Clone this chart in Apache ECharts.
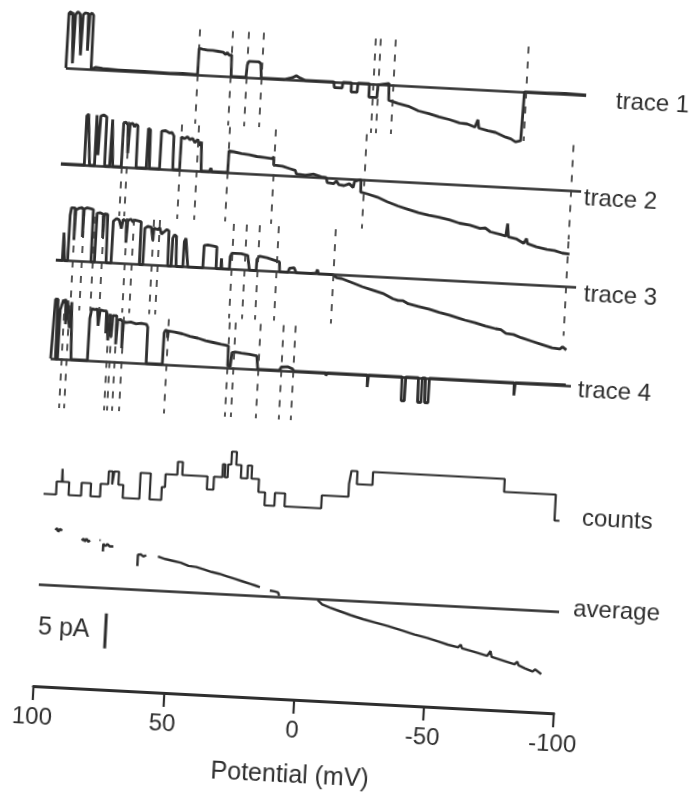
<!DOCTYPE html>
<html>
<head>
<meta charset="utf-8">
<title>Single channel ramps</title>
<script src="https://cdn.jsdelivr.net/npm/echarts/dist/echarts.min.js"></script>
<style>
html, body {
    margin: 0;
    padding: 0;
    width: 692px;
    height: 796px;
    overflow: hidden;
    background: #fff;
}

/* the scanned figure sits a little crooked on the page */
#chart {
    width: 692px;
    height: 796px;
    transform: rotate(3deg);
}
</style>
</head>
<body>
<div id="chart"></div>
<script>
// potential (mV) vs current (pA), one row per ramp
const trace1 = [
    [100, 0], [99.9, 0], [99.9, 7.8], [99.2, 8.1], [98.8, 7.6], [98.4, 8.0], [97.8, 7.9], [97.6, 0.7], [97.3, 7.7],
    [96.5, 8.1], [95.6, 7.8], [94.9, 8.0], [94.7, 1.9], [94.4, 7.7], [93.6, 8.0], [92.4, 7.9], [92.1, 2.6], [91.8, 7.8],
    [91.0, 8.0], [90.4, 7.7], [90.3, 0], [88.5, 0.3], [86, 0.2], [80, 0.1], [70, 0.1], [60, 0], [55, 0.1], [49.4, 0],
    [49.3, 3.8], [48, 3.7], [46, 3.6], [44, 3.6], [42, 3.5], [40, 3.4], [39, 3.1], [38.5, 3.4], [37.5, 3.0], [36.7, 3.1], [36.5, 0],
    [30.8, 0], [30.5, 1.8], [30, 2.3], [26, 2.3], [25.3, 2.0], [24.9, 0],
    [16, 0], [13, 0.3], [11.5, 0.6], [10, 0.3], [8, 0], [-3, 0], [-3.3, -0.8], [-6.3, -0.8], [-6.5, 0],
    [-9.8, 0], [-9.8, -1.3], [-12.1, -1.3], [-12.3, 0], [-16.7, 0], [-16.7, -1.9], [-19.8, -1.9], [-20, -0.1], [-24.2, 0.2], [-24.4, 0],
    [-24.4, -2.2], [-28, -2.6], [-32, -2.9], [-36, -3.5], [-40, -3.8], [-44, -4.2], [-48, -4.5], [-52, -4.9], [-55, -5.0],
    [-58, -5.4], [-59, -4.3], [-59.5, -5.5], [-63, -5.8], [-66, -6.0], [-70, -6.6], [-72, -6.8], [-73.8, -7.2], [-75.8, -7.0],
    [-76.3, 0], [-85, 0], [-92, 0.1], [-100, 0]
];
const trace2 = [
    [100, 0], [91.0, 0], [91.0, 7.0], [90.3, 7.3], [89.6, 7.1], [89.0, 0], [87.1, 0], [87.1, 7.2], [86.4, 7.3], [86.0, 1.5],
    [85.6, 7.1], [84.5, 7.3], [83.3, 7.0], [83.2, 0], [81.3, 0], [81.0, 6.7], [80.4, 6.6], [80.1, 0],
    [76.8, 0], [76.7, 6.3], [75.8, 6.4], [75.0, 6.0], [74.6, 2.0], [74.2, 6.2], [73.2, 6.3], [72.5, 5.8], [72.0, 6.2], [71.2, 6.0], [71.1, 0],
    [67.2, 0], [67.1, 5.7], [66.3, 5.5], [66.0, 0],
    [62.1, 0], [62.0, 5.4], [60.5, 5.5], [59.0, 5.2], [58.0, 5.3], [57.2, 4.8], [57.0, 0],
    [54.4, 0], [54.3, 4.7], [53, 4.5], [52, 4.8], [51, 4.4], [50, 4.6], [49, 4.0], [48, 4.5], [47, 3.6], [46.5, 4.2], [46.1, 0],
    [43, 0], [42.4, 0.5], [42, 0], [35.9, 0], [35.8, 3.1], [34, 3.0], [31, 2.8], [28, 2.7], [25, 2.5], [22, 2.4], [19, 2.3],
    [18.5, 2.6], [18.4, 1.4], [15, 1.3], [12, 1.0], [10, 0.8], [9.5, 0.3], [6, 0.2], [3, 0.4], [0, 0.1],
    [-2, 0], [-2.5, -0.7], [-5, -0.8], [-6, -0.4], [-7, -0.9], [-9, -1.0], [-11, -0.7], [-12.5, -1.2], [-13, -0.3], [-15.4, 0],
    [-15.5, -1.8], [-18, -2.0], [-22, -2.4], [-26, -3.0], [-30, -3.5], [-34, -3.9], [-38, -4.3], [-42, -4.6], [-46, -4.8],
    [-50, -5.1], [-54, -5.5], [-58, -5.7], [-62, -6.1], [-64, -6.0], [-66, -6.5], [-70, -6.8], [-72, -7.0], [-72.5, -5.2],
    [-73, -7.1], [-76, -7.3], [-79, -7.9], [-80, -7.2], [-80.5, -7.9], [-84, -8.3], [-88, -8.6], [-91, -8.7], [-94, -9.0], [-96.8, -9.1]
];
const trace3 = [
    [100, 0], [97.5, 0], [97.4, 4.0], [96.8, 4.0], [96.7, 0], [95.5, 0], [95.4, 6.5], [95.0, 7.6], [94.3, 7.4], [93.6, 7.6],
    [93.5, 3.0], [93.3, 7.3], [92, 7.6], [91, 7.7], [90.4, 7.4], [90.3, 3.5], [90.1, 7.5], [89, 7.7], [87.5, 7.6], [86.6, 7.5], [86.5, 0],
    [85.2, 0], [85.1, 7.0], [84, 7.1], [82.7, 6.9], [82.5, 3.5], [82.2, 7.0], [81, 6.9], [80.7, 0],
    [78.8, 0], [78.7, 6.0], [77.5, 6.4], [76.5, 6.2], [75.5, 5.0], [75, 6.3], [73.7, 6.1], [73.5, 3.0], [73.2, 6.2], [72, 6.4],
    [71.1, 6.0], [70.5, 6.3], [69, 6.2], [68, 6.1], [67.9, 0],
    [66.6, 0], [66.5, 5.2], [65.5, 5.5], [64, 5.4], [63.4, 5.3], [63.2, 3.5], [63, 5.3], [61.5, 5.1], [60.8, 5.4], [60, 4.5],
    [58, 5.2], [57.2, 5.0], [57.0, 0],
    [55.7, 0], [55.6, 4.0], [55.0, 4.5], [54.2, 4.3], [53.8, 0],
    [51.2, 0], [51.1, 3.6], [50.5, 4.1], [49.8, 3.9], [49.3, 0],
    [43.5, 0], [43.4, 3.2], [42, 3.3], [40, 3.2], [38.5, 3.1], [38.4, 0], [36.6, 0], [36.5, 1.5], [36.2, 0],
    [33.3, 0], [33.2, 1.8], [32.6, 2.3], [29, 2.3], [26.5, 2.1], [25.6, 0],
    [23.0, 0], [22.9, 1.6], [22, 2.1], [19, 1.9], [16, 1.6], [14.2, 1.4], [14.0, 0],
    [10.8, 0], [10.2, 0.6], [8.5, 0.7], [7.6, 0], [2, 0], [0, 0.1], [-0.5, 0.6], [-1, 0], [-6.5, 0],
    [-8, -0.4], [-10, -0.5], [-14, -1.0], [-18, -1.5], [-22, -1.9], [-26, -2.3], [-30, -3.0], [-32, -3.2], [-34, -3.2],
    [-36, -3.6], [-40, -3.9], [-44, -4.2], [-48, -4.6], [-52, -4.9], [-56, -5.3], [-58, -5.5], [-62, -5.8], [-66, -6.2],
    [-70, -6.5], [-72, -6.6], [-74, -7.1], [-77, -7.2], [-80, -7.6], [-84, -8.0], [-88, -8.4], [-92, -8.8], [-95, -8.9],
    [-96, -8.6], [-97.5, -9.0]
];
const trace4 = [
    [100, 0], [99.4, 0], [99.3, 8.5], [98.3, 8.5], [98.2, 0], [97.4, 0], [97.3, 7.0], [96.2, 8.5], [95.8, 8.0], [95.4, 8.6],
    [95.0, 5.0], [94.6, 8.4], [94.1, 8.5], [93.5, 4.5], [93.0, 8.2], [92.3, 8.4], [92.2, 0],
    [85.9, 0], [85.8, 6.0], [85.2, 7.4], [84, 7.3], [83, 7.4], [82.5, 5.0], [82.0, 7.3], [80.5, 7.2], [79.5, 7.2], [79.4, 4.0],
    [79.2, 6.9], [78.7, 6.8], [78.5, 3.0], [78, 6.8], [77.5, 6.7], [77.3, 3.5], [77, 6.6], [75.5, 6.6], [75.4, 2.5], [75.0, 6.0],
    [74, 6.1], [73.2, 5.8], [73.0, 2.0], [72.8, 5.8], [71.7, 5.7], [70, 5.8], [68, 5.6], [66, 5.7], [64, 5.6], [63.4, 5.2], [63.3, 0],
    [57.1, 0], [57.0, 4.5], [56.5, 4.9], [55.7, 4.8], [55.6, 3.8], [55.4, 4.8], [53, 4.7], [50, 4.5], [47, 4.2], [44, 4.0],
    [41, 3.7], [38, 3.5], [35, 3.3], [33, 3.2], [32.1, 3.1], [32.0, 0.3], [31, 0.2], [30.7, 0], [30.6, 2.2], [29.4, 2.3],
    [27, 2.2], [24, 2.1], [21, 1.9], [20.5, 1.8], [20.4, 0],
    [12.1, 0], [11.4, 0.5], [9, 0.6], [7, 0.3], [6.5, 0], [0, 0], [-5.8, 0], [-5.9, -0.4], [-6.2, 0],
    [-21.8, 0], [-21.9, -1.7], [-22.2, 0], [-35.1, 0], [-35.2, -3.4], [-36.4, -3.4], [-36.5, 0],
    [-41.4, 0], [-41.5, -3.5], [-42.8, -3.5], [-42.9, 0], [-44.1, 0], [-44.2, -3.5], [-45.5, -3.5], [-45.6, 0],
    [-78.2, 0], [-78.3, -1.8], [-78.6, 0], [-98, 0.1]
];

// potentials of the dashed transition markers on each ramp
const trace1Marks = [49.3, 36.6, 30.7, 25.0, -18.0, -19.9, -25.7, -77.0];
const trace2Marks = [76.8, 74.9, 54.4, 48.0, 35.8, 18.5, -16.7, -96.2];
const trace3Marks = [93.5, 90.3, 85.8, 82.6, 73.7, 71.1, 63.4, 60.8, 32.6, 27.5, 22.4, 15.3, -6.5, -96.2];
const trace4Marks = [96.0, 94.1, 78.7, 77.5, 75.5, 73.0, 55.7, 32.0, 30.0, 20.4, 11.4, 7.0];

// number of open channels, as [potential where the level starts, level]
const counts = [
    [100, 0], [95.2, 1], [93.2, 2], [92.9, 1], [90.4, 0], [85.6, 1], [82.0, 0], [78.3, 1], [75.4, 2], [73.9, 1],
    [73.3, 2], [71.5, 1], [69.6, 0], [63.2, 2], [59.3, 0], [54.8, 1], [53.6, 2], [49.1, 3], [47.2, 2], [37.5, 1],
    [35.0, 2], [31.8, 3], [30.9, 2], [29.8, 3], [28.6, 4], [26.7, 3], [24.7, 2], [22.2, 3], [20.6, 2], [17.7, 1],
    [15.1, 0], [11.3, 1], [7.4, 0], [-6.7, 1], [-16.9, 2], [-17.6, 3], [-19.9, 2], [-25.9, 3], [-76.5, 2],
    [-96.4, 0], [-98.3, 0]
];

// averaged open channel current, '-' where the average is not drawn
const average = [
    [94.7, 7.9], [94.2, 8.2], [93.6, 7.7], [93.0, 8.1], [92.1, 7.9], [88, '-'],
    [84.4, 6.6], [83.8, 6.9], [83.2, 6.5], [82.6, 6.9], [81.9, 6.5], [81.2, 6.7], [79, '-'],
    [77.6, 6.8], [77.2, 6.8], [76.6, '-'],
    [76.1, 5.2], [76.1, 6.3], [75.3, 6.0], [74.5, 6.3], [73.6, 6.0], [72.9, 6.2], [72.2, 6.0], [68, '-'],
    [62.6, 3.4], [62.6, 5.0], [61.6, 5.1], [60.5, 4.8], [59.4, 5.0], [57, '-'],
    [54.9, 4.9], [52, 4.6], [49, 4.4], [46, 4.2], [43, 3.8], [40, 3.7], [37, 3.4], [34, 3.1], [31, 2.9], [28, 2.6],
    [25, 2.3], [22, 2.0], [19, 1.7], [17, 1.5], [15.2, 1.3], [13, '-'],
    [11.3, 0.9], [9.5, 0.8], [8.2, 0.7], [7.6, 0.2], [0, '-'],
    [-7.2, -0.1], [-9, -0.7], [-12, -1.1], [-15.6, -1.5], [-20, -2.0], [-25, -2.5], [-30, -2.9], [-34.8, -3.3],
    [-40, -3.8], [-45, -4.3], [-50, -4.7], [-54, -5.1], [-58, -5.5], [-62, -5.8], [-63, -5.4], [-63.5, -5.9],
    [-68, -6.3], [-73.3, -6.8], [-74.5, -6.1], [-75, -6.9], [-80, -7.4], [-84, -7.8], [-85, -7.4], [-85.5, -7.9],
    [-88, -8.3], [-91, -8.7], [-92, -8.4], [-94.4, -9.0]
];

const scaleBar = [[73.5, -3.6], [73.5, -8.6]];   // 5 pA
const potentialTicks = [100, 50, 0, -50, -100];
const rowNames = ['trace 1', 'trace 2', 'trace 3', 'trace 4', 'counts', 'average'];

const INK = '#2e2e2e';
const FONT = '"Liberation Sans", Arial, Helvetica, sans-serif';
const PX_PER_PA = 7;
const PLOT_LEFT = 49, PLOT_RIGHT = 122;

const grids = [], xAxes = [], yAxes = [], series = [];

function addGrid(top, height, ymin, ymax) {
    grids.push({ left: PLOT_LEFT, right: PLOT_RIGHT, top: top, height: height });
    const idx = grids.length - 1;
    xAxes.push({ gridIndex: idx, type: 'value', min: -100, max: 100, inverse: true, show: false });
    yAxes.push({ gridIndex: idx, type: 'value', min: ymin, max: ymax, show: false });
    return idx;
}

const traces = [trace1, trace2, trace3, trace4];
const traceMarks = [trace1Marks, trace2Marks, trace3Marks, trace4Marks];
const traceBase = [83, 179, 275.5, 374];

traces.forEach((tr, i) => {
    const g = addGrid(traceBase[i] - 10 * PX_PER_PA, 20 * PX_PER_PA, -10, 10);
    const dashes = traceMarks[i].map(v => [
        { coord: [v, 6.5], lineStyle: { type: [7, 8], width: 1.7, color: '#3a3a3a' } },
        { coord: [v, -7] }
    ]);
    series.push({
        type: 'line',
        xAxisIndex: g,
        yAxisIndex: g,
        data: tr,
        symbol: 'none',
        clip: false,
        lineStyle: { color: INK, width: 2.8 },
        markLine: {
            silent: true,
            symbol: ['none', 'none'],
            label: { show: false },
            animation: false,
            data: [{ yAxis: 0, lineStyle: { type: 'solid', width: 2.6, color: INK } }].concat(dashes)
        }
    });
});

const gCounts = addGrid(509.5 - 5 * 13, 6 * 13, -1, 5);
series.push({
    type: 'line',
    xAxisIndex: gCounts,
    yAxisIndex: gCounts,
    data: counts,
    step: 'end',
    symbol: 'none',
    clip: false,
    lineStyle: { color: INK, width: 2.2 }
});

const gAvg = addGrid(600.5 - 10 * PX_PER_PA, 20 * PX_PER_PA, -10, 10);
series.push({
    type: 'line',
    xAxisIndex: gAvg,
    yAxisIndex: gAvg,
    data: average,
    symbol: 'none',
    clip: false,
    connectNulls: false,
    lineStyle: { color: INK, width: 2.4 },
    markLine: {
        silent: true,
        symbol: ['none', 'none'],
        label: { show: false },
        animation: false,
        data: [{ yAxis: 0, lineStyle: { type: 'solid', width: 2.6, color: INK } }]
    }
});
series.push({
    type: 'line',
    xAxisIndex: gAvg,
    yAxisIndex: gAvg,
    data: scaleBar,
    symbol: 'none',
    clip: false,
    lineStyle: { color: INK, width: 3 }
});

// the only visible axis
grids.push({ left: PLOT_LEFT, right: PLOT_RIGHT, top: 652, height: 50 });
const gAxis = grids.length - 1;
xAxes.push({
    gridIndex: gAxis,
    type: 'value',
    min: -100,
    max: 100,
    interval: 50,
    inverse: true,
    name: 'Potential (mV)',
    nameLocation: 'middle',
    nameGap: 64,
    nameTextStyle: { fontSize: 25, color: INK, fontFamily: FONT },
    axisLine: { lineStyle: { color: INK, width: 2.8 } },
    axisTick: { length: 14, lineStyle: { color: INK, width: 2.2 } },
    axisLabel: {
        fontSize: 24, color: INK, fontFamily: FONT, margin: 19,
        showMinLabel: true, showMaxLabel: true,
        formatter: v => potentialTicks.includes(v) ? String(v) : ''
    },
    splitLine: { show: false }
});
yAxes.push({ gridIndex: gAxis, type: 'value', min: 0, max: 1, show: false });

const labelPos = [[600, 88], [573, 186], [578, 282], [577, 378], [588, 506], [584, 597]];
const graphics = rowNames.map((name, i) => ({
    type: 'text',
    x: labelPos[i][0],
    y: labelPos[i][1],
    silent: true,
    style: { text: name, font: '24px ' + FONT, fill: INK, verticalAlign: 'middle' }
}));
graphics.push({
    type: 'text',
    x: 102,
    y: 643,
    silent: true,
    style: { text: '5 pA', font: '25px ' + FONT, fill: INK, align: 'right', verticalAlign: 'middle' }
});

const chart = echarts.init(document.getElementById('chart'), null, { renderer: 'canvas' });
chart.setOption({
    animation: false,
    backgroundColor: '#fff',
    grid: grids,
    xAxis: xAxes,
    yAxis: yAxes,
    series: series,
    graphic: graphics
});
</script>
</body>
</html>
